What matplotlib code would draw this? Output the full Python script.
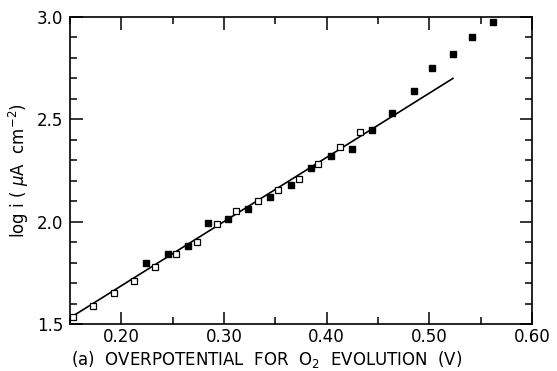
import matplotlib.pyplot as plt
import numpy as np
from matplotlib.ticker import MultipleLocator

# open squares
open_x = np.array([0.153, 0.172, 0.193, 0.212, 0.233, 0.253, 0.274, 0.293,
                   0.312, 0.333, 0.353, 0.373, 0.392, 0.413, 0.432])
open_y = np.array([1.535, 1.59, 1.65, 1.71, 1.78, 1.84, 1.90, 1.99,
                   2.05, 2.10, 2.155, 2.21, 2.28, 2.365, 2.44])

# filled squares
fill_x = np.array([0.224, 0.245, 0.265, 0.284, 0.304, 0.323, 0.345, 0.365, 0.385,
                   0.404, 0.425, 0.444, 0.464, 0.485, 0.503, 0.523, 0.542, 0.562])
fill_y = np.array([1.80, 1.84, 1.88, 1.994, 2.013, 2.06, 2.12, 2.18, 2.26,
                   2.32, 2.355, 2.45, 2.53, 2.64, 2.75, 2.82, 2.90, 2.976])

# fitted straight line
line_x = np.array([0.150, 0.523])
line_y = np.array([1.530, 2.700])

x_ticks = [0.20, 0.30, 0.40, 0.50, 0.60]
x_labels = ['0.20', '0.30', '0.40', '0.50', '0.60']
y_ticks = [1.5, 2.0, 2.5, 3.0]
y_labels = ['1.5', '2.0', '2.5', '3.0']

fig = plt.figure(figsize=(5.57, 3.71), dpi=100)
ax = fig.add_axes([0.1257, 0.1267, 0.8294, 0.8275])

ax.plot(line_x, line_y, color='black', lw=1.2, zorder=2)
ax.plot(open_x, open_y, ls='none', marker='s', ms=4.2, mfc='white', mec='black', mew=0.9, zorder=3)
ax.plot(fill_x, fill_y, ls='none', marker='s', ms=4.2, mfc='black', mec='black', zorder=3)

ax.set_xlim(0.15, 0.60)
ax.set_ylim(1.5, 3.0)
ax.set_xticks(x_ticks)
ax.set_xticklabels(x_labels)
ax.set_yticks(y_ticks)
ax.set_yticklabels(y_labels)
ax.xaxis.set_minor_locator(MultipleLocator(0.05))
ax.yaxis.set_minor_locator(MultipleLocator(0.1))

ax.tick_params(which='both', direction='in', top=True, right=True, width=1.1, labelsize=12)
ax.tick_params(which='major', length=9, pad=5)
ax.tick_params(axis='x', which='major', pad=3)
ax.tick_params(which='minor', length=5)
for s in ax.spines.values():
    s.set_linewidth(1.2)

# x label sits left of the axes centre, near the bottom edge
fig.text(0.478, 0.017, '(a)  OVERPOTENTIAL  FOR  O$_2$  EVOLUTION  (V)',
         fontsize=12, ha='center', va='baseline')
ax.set_ylabel('log i ( $\\mu$A  cm$^{-2}$)', fontsize=12, labelpad=4)

fig.savefig('out.png', dpi=100)
